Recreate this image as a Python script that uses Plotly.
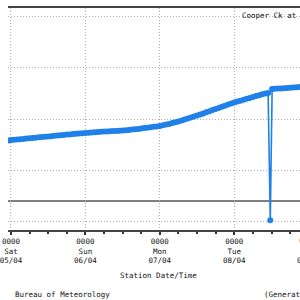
import pandas as pd
import plotly.graph_objects as go

# ---- data ----
start = pd.Timestamp("2025-04-05 00:00")
hours = list(range(-1, 83)) + [82.9, 83.6, 84.2] + list(range(85, 95))
level = [
    0.790, 0.793, 0.796, 0.799, 0.802, 0.805, 0.808, 0.811, 0.814, 0.817,
    0.820, 0.823, 0.826, 0.829, 0.832, 0.835, 0.838, 0.841, 0.844, 0.847,
    0.849, 0.852, 0.855, 0.857, 0.860, 0.862,
    0.865, 0.867, 0.870, 0.872, 0.875, 0.877, 0.878, 0.880, 0.882, 0.883,
    0.885, 0.887, 0.890, 0.893, 0.896, 0.900, 0.903, 0.907, 0.911, 0.915,
    0.919, 0.923, 0.927, 0.931,
    0.938, 0.945, 0.952, 0.960, 0.967, 0.975, 0.985, 0.995, 1.005, 1.014,
    1.024, 1.034, 1.045, 1.055, 1.066, 1.077, 1.087, 1.098, 1.109, 1.119,
    1.130, 1.141, 1.151, 1.162,
    1.171, 1.180, 1.189, 1.198, 1.207, 1.216, 1.225, 1.233, 1.242, 1.250,
    1.255,
    0.008,
    1.294, 1.296, 1.298, 1.300, 1.302, 1.304, 1.306, 1.308, 1.311, 1.313,
    1.316,
]
ref_level = 0.196
day_ticks = ["2025-04-05", "2025-04-06", "2025-04-07", "2025-04-08"]
day_labels = ["0000<br>Sat<br>05/04", "0000<br>Sun<br>06/04",
              "0000<br>Mon<br>07/04", "0000<br>Tue<br>08/04"]
next_label = "0000<br>Wed<br>09/04"
y_ticks = [0.0, 0.5, 1.0, 1.5, 2.0]
x_range_h = [-0.941, 93.18]
y_range = [-0.088, 2.088]

times = [start + pd.Timedelta(hours=h) for h in hours]
x0 = start + pd.Timedelta(hours=x_range_h[0])
x1 = start + pd.Timedelta(hours=x_range_h[1])

FONT = "DejaVu Sans Mono"
BLUE = "#1f80e8"
GRID = "#b0b0b0"

fig = go.Figure()
fig.add_trace(go.Scatter(
    x=times, y=level, mode="lines+markers",
    line=dict(color=BLUE, width=1.6),
    marker=dict(color=BLUE, size=6, line=dict(width=0)),
    showlegend=False, hoverinfo="skip",
))

fig.add_shape(type="line", xref="paper", yref="y", x0=0, x1=1,
              y0=ref_level, y1=ref_level, layer="between",
              line=dict(color="#555555", width=1.5))

wed_frac = (pd.Timestamp("2025-04-09") - x0) / (x1 - x0)
annos = [
    dict(x=238 / 300, y=(230 - 16) / 222, text="Cooper Ck at Cullyamurra",
         xanchor="left", yanchor="middle"),
    dict(x=155 / 300, y=(230 - 275) / 222, text="Station Date/Time",
         xanchor="center", yanchor="middle"),
    dict(x=5 / 300, y=(230 - 294) / 222, text="Bureau of Meteorology",
         xanchor="left", yanchor="middle"),
    dict(x=261 / 300, y=(230 - 294) / 222, text="(Generated at 09/04/2025)",
         xanchor="left", yanchor="middle"),
    dict(x=wed_frac, y=(230 - 251) / 222, text=next_label,
         xanchor="center", yanchor="middle"),
]
for a in annos:
    fig.add_annotation(xref="paper", yref="paper", showarrow=False,
                       font=dict(family=FONT, size=7.5, color="#111111"), **a)

fig.update_layout(
    width=300, height=300,
    margin=dict(l=0, r=0, t=8, b=70),
    paper_bgcolor="white", plot_bgcolor="white",
    font=dict(family=FONT, size=7.5, color="#111111"),
    xaxis=dict(
        range=[x0, x1], tickvals=day_ticks, ticktext=day_labels,
        ticklabeloverflow="allow",
        showgrid=True, gridcolor=GRID, griddash="1px,2px", gridwidth=1,
        showline=True, linecolor="#444444", linewidth=1.5, mirror=True,
        ticks="outside", ticklen=3, tickwidth=1.5, tickcolor="#333333",
        minor=dict(dtick=6 * 3600 * 1000, ticks="outside", ticklen=2,
                   tickwidth=1.5, tickcolor="#333333", showgrid=False),
        zeroline=False,
    ),
    yaxis=dict(
        range=y_range, tickvals=y_ticks, showticklabels=False,
        showgrid=True, gridcolor=GRID, griddash="1px,2px", gridwidth=1,
        zeroline=False, showline=False, ticks="",
    ),
)

fig.write_html("out.html")
